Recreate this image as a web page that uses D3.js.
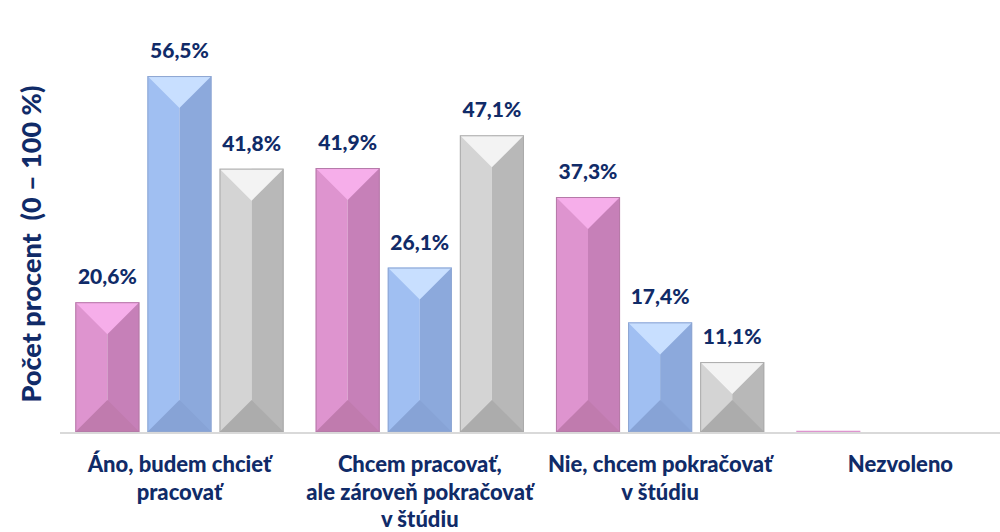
<!DOCTYPE html>
<html><head><meta charset="utf-8">
<script src="https://cdn.jsdelivr.net/npm/d3@7"></script>
<style>body{margin:0;background:#fff}svg{display:block}</style>
</head><body>
<svg id="c" width="1000" height="532"></svg>
<script>
const categories = [["Áno, budem chcieť","pracovať"],["Chcem pracovať,","ale zároveň pokračovať","v štúdiu"],["Nie, chcem pokračovať","v štúdiu"],["Nezvoleno"]];
const seriesNames = ["A","B","C"];
const seriesA = [20.6, 41.9, 37.3, 0.2];
const seriesB = [56.5, 26.1, 17.4, 0];
const seriesC = [41.8, 47.1, 11.1, 0];
const showLabel = [true, true, true, false];
const yTitle = "Počet procent  (0 – 100 %)";

const palettes = [
  {left:"#de94cf", right:"#c680b8", top:"#f6aeea", bottom:"#c07bae", edge:"#b57aa8"},
  {left:"#a0bff2", right:"#8ca9dc", top:"#c8dfff", bottom:"#87a3d6", edge:"#8ea6d2"},
  {left:"#d4d4d4", right:"#b8b8b8", top:"#f3f3f3", bottom:"#acacac", edge:"#aaaaaa"}
];
const NAVY = "#102b68";
const FONT = "Lato, 'Open Sans', sans-serif";

const svg = d3.select("#c");
const baseY = 432;
const x = d3.scaleBand().domain(d3.range(categories.length)).range([59.3, 1020.6]).paddingInner(0).paddingOuter(0);
const xs = d3.scaleBand().domain(seriesNames).range([16, x.bandwidth() - 16]).paddingInner(0.111).paddingOuter(0);
const y = d3.scaleLinear().domain([0, 100]).range([baseY, baseY - 630]);

svg.append("line").attr("x1", 60).attr("x2", 1000).attr("y1", baseY + 1).attr("y2", baseY + 1)
  .attr("stroke", "#d9d9d9").attr("stroke-width", 2);

const data = [seriesA, seriesB, seriesC];
data.forEach((vals, si) => {
  const p = palettes[si];
  vals.forEach((v, ci) => {
    const x0 = x(ci) + xs(seriesNames[si]);
    const w = xs.bandwidth();
    const x1 = x0 + w;
    const xm = x0 + w / 2;
    const y0 = y(v), y1 = y(0);
    const h = y1 - y0;
    if (h <= 0) return;
    const g = svg.append("g");
    if (h < 4) {
      g.append("rect").attr("x", x0).attr("y", y0).attr("width", w).attr("height", h).attr("fill", p.left);
      return;
    }
    const b = Math.min(w / 2, h / 2);
    g.append("rect").attr("x", x0).attr("y", y0).attr("width", w / 2).attr("height", h).attr("fill", p.left);
    g.append("rect").attr("x", xm).attr("y", y0).attr("width", w / 2).attr("height", h).attr("fill", p.right);
    g.append("polygon").attr("points", [[x0, y0], [x1, y0], [xm, y0 + b]].map(d => d.join(",")).join(" ")).attr("fill", p.top);
    g.append("polygon").attr("points", [[x0, y1], [x1, y1], [xm, y1 - b]].map(d => d.join(",")).join(" ")).attr("fill", p.bottom);
    g.append("rect").attr("x", x0 + 0.5).attr("y", y0 + 0.5).attr("width", w - 1).attr("height", h - 1)
      .attr("fill", "none").attr("stroke", p.edge).attr("stroke-width", 1);
    if (showLabel[ci]) {
      svg.append("text").attr("x", xm).attr("y", y0 - 18).attr("text-anchor", "middle")
        .attr("font-family", FONT).attr("font-weight", 900).attr("font-size", 21).attr("fill", NAVY)
        .text(v.toFixed(1).replace(".", ",") + "%");
    }
  });
});

categories.forEach((lines, ci) => {
  const cx = x(ci) + x.bandwidth() / 2;
  const t = svg.append("text").attr("text-anchor", "middle").attr("font-family", FONT)
    .attr("font-weight", 900).attr("font-size", 22).attr("fill", NAVY);
  lines.forEach((ln, li) => t.append("tspan").attr("x", cx).attr("y", 472 + li * 27.5).text(ln));
});

svg.append("text").attr("transform", "translate(41,244) rotate(-90)").attr("text-anchor", "middle")
  .attr("font-family", FONT).attr("font-weight", 900).attr("font-size", 27).attr("fill", NAVY)
  .style("white-space", "pre").text(yTitle);
</script>
</body></html>
